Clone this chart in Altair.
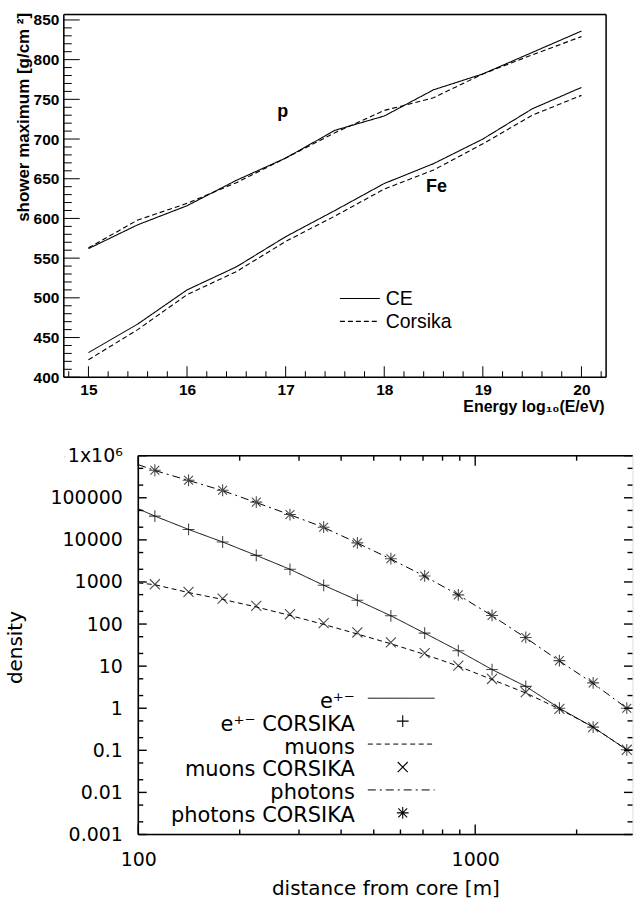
import altair as alt
import pandas as pd

FONT = "Liberation Sans"
FONT2 = "DejaVu Sans"

# ---------------- top panel: shower maximum vs energy ----------------
energy = [15, 15.5, 16, 16.5, 17, 17.5, 18, 18.5, 19, 19.5, 20]
p_ce = [562, 592, 616, 648, 676, 711, 729, 762, 782, 809, 836]
p_corsika = [563, 598, 619, 645, 676, 708, 736, 752, 782, 806, 829]
fe_ce = [431, 467, 510, 539, 577, 610, 644, 669, 700, 738, 765]
fe_corsika = [422, 460, 504, 533, 571, 603, 637, 661, 694, 730, 755]
top_x_ticks = [15, 16, 17, 18, 19, 20]
top_y_ticks = [400, 450, 500, 550, 600, 650, 700, 750, 800, 850]
top_legend = ["CE", "Corsika"]

# ---------------- bottom panel: lateral densities ----------------
r_line = [100, 112, 141, 178, 224, 282, 355, 447, 562, 708, 891, 1122, 1413, 1778, 2239, 2818]
e_line = [54700, 36700, 17700, 8900, 4270, 2000, 834, 368, 157, 60.8, 23.3, 8.3, 3.3, 1.0, 0.355, 0.103]
mu_line = [950, 860, 560, 385, 255, 160, 98, 58, 34, 19, 10, 4.8, 2.3, 0.96, 0.355, 0.103]
ph_line = [612000, 445000, 258000, 148000, 77000, 39500, 19800, 8400, 3500, 1370, 490, 158, 47, 13.2, 3.9, 1.0]

r_pts = [112, 141, 178, 224, 282, 355, 447, 562, 708, 891, 1122, 1413, 1778, 2239, 2818]
e_corsika = [36700, 17700, 8900, 4270, 2000, 834, 368, 157, 60.8, 23.3, 8.3, 3.3, 1.0, 0.355, 0.103]
mu_corsika = [881, 581, 403, 271, 171, 105, 63, 36.6, 20.4, 10.3, 4.95, 2.4, 0.96, 0.355, 0.103]
ph_corsika = [451000, 261000, 151000, 78700, 40000, 20000, 8500, 3570, 1390, 493, 160, 48, 13.5, 4.0, 1.0]

bot_x_ticks = [100, 1000]
bot_x_labels = ["100", "1000"]
bot_y_ticks = [0.001, 0.01, 0.1, 1, 10, 100, 1000, 10000, 100000, 1000000]
bot_y_labels = ["0.001", "0.01", "0.1", "1", "10", "100", "1000", "10000", "100000", "1x10⁶"]
bot_legend = ["e⁺⁻", "e⁺⁻ CORSIKA", "muons", "muons CORSIKA", "photons", "photons CORSIKA"]


def label_expr(values, labels):
    expr = "''"
    for v, l in reversed(list(zip(values, labels))):
        expr = f"abs(datum.value / {v!r} - 1) < 1e-6 ? '{l}' : ({expr})"
    return expr


one = pd.DataFrame({"a": [0]})


def pin(x1, x2, y):
    # invisible guide that fixes the layout bounds
    return alt.Chart(one).mark_rule(opacity=0, strokeWidth=1).encode(
        x=alt.value(x1), x2=alt.value(x2), y=alt.value(y))


# ======================= TOP CHART =======================
W1, H1 = 544, 364
XD1 = [14.75, 20.25]
YD1 = [400, 857]

rows = []
for grp, model, arr in [("p", "CE", p_ce), ("p", "Corsika", p_corsika),
                        ("Fe", "CE", fe_ce), ("Fe", "Corsika", fe_corsika)]:
    for e, v in zip(energy, arr):
        rows.append({"E": e, "Xmax": v, "grp": grp, "model": model})
top_df = pd.DataFrame(rows)

xs1 = alt.Scale(domain=XD1, nice=False, zero=False)
ys1 = alt.Scale(domain=YD1, nice=False, zero=False)
TOP_DASH = [[1, 0], [5, 3]]

top_lines = alt.Chart(top_df).mark_line(color="black", strokeWidth=1.1).encode(
    x=alt.X("E:Q", scale=xs1, axis=alt.Axis(
        values=top_x_ticks, format="d", labelFont=FONT, labelFontSize=15.5, labelFontWeight="bold",
        labelPadding=5, labelFlush=False, labelOverlap=False, ticks=False, tickSize=0,
        domain=False, grid=False,
        title="Energy log₁₀(E/eV)", titleFont=FONT, titleFontSize=16, titleFontWeight="bold",
        titleAlign="right", titleAnchor="end", titleBaseline="alphabetic",
        titleX=W1 - 2, titleY=34)),
    y=alt.Y("Xmax:Q", scale=ys1, axis=alt.Axis(
        values=top_y_ticks, format="d", labelFont=FONT, labelFontSize=15.5, labelFontWeight="bold",
        labelPadding=5, labelOverlap=False, ticks=False, tickSize=0, domain=False, grid=False,
        title="shower maximum [g/cm ²]", titleFont=FONT, titleFontSize=17, titleFontWeight="bold",
        titleAlign="right", titleAnchor="end", titleBaseline="alphabetic",
        titleX=-35, titleY=-2)),
    strokeDash=alt.StrokeDash("model:N", scale=alt.Scale(domain=top_legend, range=TOP_DASH),
                              legend=None),
    detail="grp:N",
)

top_frame = [
    alt.Chart(one).mark_rule(color="black", strokeWidth=1.5).encode(x=alt.datum(XD1[0])),
    alt.Chart(one).mark_rule(color="black", strokeWidth=1.5).encode(x=alt.datum(XD1[1])),
    alt.Chart(one).mark_rule(color="black", strokeWidth=1.5).encode(y=alt.datum(YD1[0])),
    alt.Chart(one).mark_rule(color="black", strokeWidth=1.5).encode(y=alt.datum(YD1[1])),
]

y_major1 = pd.DataFrame({"v": top_y_ticks})
y_minor1 = pd.DataFrame({"v": [v for v in range(410, 860, 10) if v % 50 != 0]})
x_major1 = pd.DataFrame({"v": top_x_ticks})
x_minor1 = pd.DataFrame({"v": [round(14.8 + 0.2 * i, 1) for i in range(28)
                               if abs(round(14.8 + 0.2 * i, 1) % 1) > 1e-9]})

top_ticks = [
    alt.Chart(y_major1).mark_rule(color="black", strokeWidth=1).encode(
        y="v:Q", x=alt.value(0), x2=alt.value(16)),
    alt.Chart(y_minor1).mark_rule(color="black", strokeWidth=1).encode(
        y="v:Q", x=alt.value(0), x2=alt.value(8)),
    alt.Chart(x_major1).mark_rule(color="black", strokeWidth=1).encode(
        x="v:Q", y=alt.value(H1 - 11), y2=alt.value(H1)),
    alt.Chart(x_minor1).mark_rule(color="black", strokeWidth=1).encode(
        x="v:Q", y=alt.value(H1 - 6), y2=alt.value(H1)),
]

top_text = [
    alt.Chart(one).mark_text(text="p", font=FONT, fontSize=18, fontWeight="bold", color="black",
                             baseline="middle").encode(x=alt.datum(16.97), y=alt.datum(734)),
    alt.Chart(one).mark_text(text="Fe", font=FONT, fontSize=18, fontWeight="bold", color="black",
                             baseline="middle").encode(x=alt.datum(18.53), y=alt.datum(640)),
]

top_leg = []
for i, (lab, dash) in enumerate(zip(top_legend, TOP_DASH)):
    yy = 285 + 23 * i
    top_leg.append(alt.Chart(one).mark_rule(color="black", strokeWidth=1.1, strokeDash=dash).encode(
        x=alt.value(277), x2=alt.value(317), y=alt.value(yy)))
    top_leg.append(alt.Chart(one).mark_text(text=lab, font=FONT, fontSize=19.5, color="black",
                                            align="left", baseline="middle").encode(
        x=alt.value(323), y=alt.value(yy + 1)))

top_pins = [pin(-63, -62, -12), pin(0, 1, 404)]

top_chart = alt.layer(top_lines, *top_frame, *top_ticks, *top_text, *top_leg, *top_pins,
                      data=top_df).properties(width=W1, height=H1)

# ======================= BOTTOM CHART =======================
W2, H2 = 495.8, 380
XD2 = [100, 2930]
YD2 = [0.001, 1000000]

lrows = []
for sp, arr in [("e", e_line), ("mu", mu_line), ("ph", ph_line)]:
    for r, v in zip(r_line, arr):
        lrows.append({"r": r, "rho": v, "sp": sp})
line_df = pd.DataFrame(lrows)

prows = []
for sp, arr in [("e", e_corsika), ("mu", mu_corsika), ("ph", ph_corsika)]:
    for r, v in zip(r_pts, arr):
        prows.append({"r": r, "rho": v, "sp": sp})
pts_df = pd.DataFrame(prows)

PLUS = "M-1,0L1,0M0,-1L0,1"
CROSS = "M-0.85,-0.85L0.85,0.85M-0.85,0.85L0.85,-0.85"
STAR = "M-1,0L1,0M0,-1L0,1M-0.75,-0.75L0.75,0.75M-0.75,0.75L0.75,-0.75"
SPECIES = ["e", "mu", "ph"]
DASHES = [[1, 0], [5, 3.5], [8, 4, 2, 4]]
SHAPES = [PLUS, CROSS, STAR]
MSIZE = 140

xs2 = alt.Scale(type="log", domain=XD2, nice=False)
ys2 = alt.Scale(type="log", domain=YD2, nice=False)

x_axis2 = alt.Axis(
    values=bot_x_ticks, labelExpr=label_expr(bot_x_ticks, bot_x_labels),
    labelFont=FONT2, labelFontSize=19, labelPadding=16, labelFlush=False, labelOverlap=False,
    ticks=False, tickSize=0, domain=False, grid=False,
    title="distance from core [m]", titleFont=FONT2, titleFontSize=20, titleFontWeight="normal",
    titleBaseline="alphabetic", titleX=W2 / 2, titleY=60.5)
y_axis2 = alt.Axis(
    values=bot_y_ticks, labelExpr=label_expr(bot_y_ticks, bot_y_labels),
    labelFont=FONT2, labelFontSize=19, labelPadding=16, labelOverlap=False,
    ticks=False, tickSize=0, domain=False, grid=False,
    title="density", titleFont=FONT2, titleFontSize=20, titleFontWeight="normal",
    titleBaseline="alphabetic", titleX=-117.2, titleY=192)

bot_lines = []
for sp, dash in zip(SPECIES, DASHES):
    bot_lines.append(
        alt.Chart(line_df).transform_filter(alt.datum.sp == sp)
        .mark_line(color="black", strokeWidth=1.0, strokeDash=dash, clip=True)
        .encode(
            x=alt.X("r:Q", scale=xs2, axis=x_axis2),
            y=alt.Y("rho:Q", scale=ys2, axis=y_axis2),
        )
    )

bot_pts = alt.Chart(pts_df).mark_point(filled=False, color="black", size=MSIZE, strokeWidth=1.1,
                                       clip=True).encode(
    x=alt.X("r:Q", scale=xs2, axis=x_axis2),
    y=alt.Y("rho:Q", scale=ys2, axis=y_axis2),
    shape=alt.Shape("sp:N", scale=alt.Scale(domain=SPECIES, range=SHAPES), legend=None),
)

bot_frame = [
    alt.Chart(one).mark_rule(color="black", strokeWidth=1.6).encode(x=alt.datum(XD2[0])),
    alt.Chart(one).mark_rule(color="black", strokeWidth=1.6).encode(y=alt.datum(YD2[0])),
    alt.Chart(one).mark_rule(color="black", strokeWidth=1.6).encode(y=alt.datum(YD2[1])),
]

y_major2 = pd.DataFrame({"v": bot_y_ticks})
y_minor2 = pd.DataFrame({"v": [m * d for d in [0.001, 0.01, 0.1, 1, 10, 100, 1000, 10000, 100000]
                               for m in (2, 5)]})
x_major2 = pd.DataFrame({"v": bot_x_ticks})
x_minor2 = pd.DataFrame({"v": [200, 300, 400, 500, 600, 700, 800, 900, 2000]})

TKW = 1.4
bot_ticks = [
    alt.Chart(y_major2).mark_rule(color="black", strokeWidth=TKW).encode(
        y="v:Q", x=alt.value(0), x2=alt.value(8.5)),
    alt.Chart(y_minor2).mark_rule(color="black", strokeWidth=TKW).encode(
        y="v:Q", x=alt.value(0), x2=alt.value(5)),
    alt.Chart(y_major2).mark_rule(color="black", strokeWidth=TKW).encode(
        y="v:Q", x=alt.value(W2 - 8.5), x2=alt.value(W2)),
    alt.Chart(y_minor2).mark_rule(color="black", strokeWidth=TKW).encode(
        y="v:Q", x=alt.value(W2 - 5), x2=alt.value(W2)),
    alt.Chart(x_major2).mark_rule(color="black", strokeWidth=TKW).encode(
        x="v:Q", y=alt.value(0), y2=alt.value(10)),
    alt.Chart(x_minor2).mark_rule(color="black", strokeWidth=TKW).encode(
        x="v:Q", y=alt.value(0), y2=alt.value(5)),
    alt.Chart(x_major2).mark_rule(color="black", strokeWidth=TKW).encode(
        x="v:Q", y=alt.value(H2 - 10), y2=alt.value(H2)),
    alt.Chart(x_minor2).mark_rule(color="black", strokeWidth=TKW).encode(
        x="v:Q", y=alt.value(H2 - 5), y2=alt.value(H2)),
]

bot_leg = []
for i, lab in enumerate(bot_legend):
    yy = 243.3 + 23 * i
    bot_leg.append(alt.Chart(one).mark_text(text=lab, font=FONT2, fontSize=21, color="black",
                                            align="right", baseline="middle").encode(
        x=alt.value(217.3), y=alt.value(yy + 3.5)))
    sp_i = i // 2
    if i % 2 == 0:
        bot_leg.append(alt.Chart(one).mark_rule(color="black", strokeWidth=1.0,
                                                strokeDash=DASHES[sp_i]).encode(
            x=alt.value(230.3), x2=alt.value(297.3), y=alt.value(yy)))
    else:
        bot_leg.append(alt.Chart(one).mark_point(shape=SHAPES[sp_i], filled=False, color="black",
                                                 size=MSIZE, strokeWidth=1.1, opacity=1).encode(
            x=alt.value(265.3), y=alt.value(yy)))

bot_pins = [pin(0, 1, -20), pin(0, 1, 447.5)]

bot_chart = alt.layer(*bot_lines, bot_pts, *bot_frame, *bot_ticks, *bot_leg, *bot_pins,
                      data=line_df).properties(width=W2, height=H2)

spacer = alt.Chart(one).mark_point(opacity=0).encode(
    x=alt.value(0), y=alt.value(0)).properties(width=1, height=1)

bottom_row = alt.hconcat(spacer, bot_chart, spacing=73.7, bounds="flush")

chart = alt.vconcat(top_chart, bottom_row, spacing=16.7).properties(
    padding={"left": 0, "top": 0, "right": 0, "bottom": 0}
).configure_view(stroke=None).configure(font=FONT)

chart.save("out.html", embed_options={"renderer": "svg", "actions": False})
